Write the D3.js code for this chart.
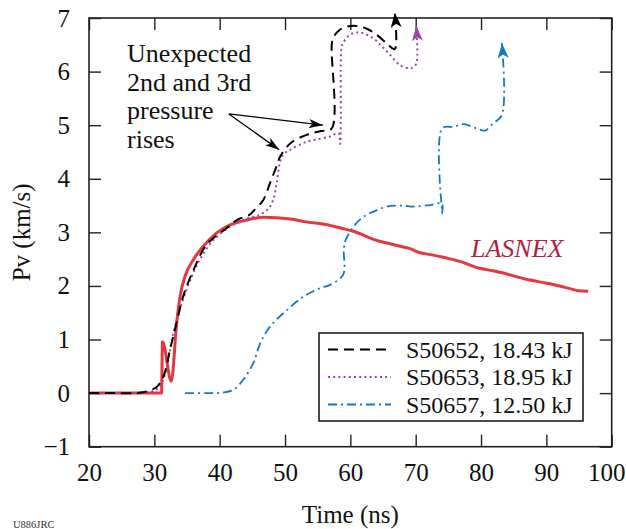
<!DOCTYPE html>
<html>
<head>
<meta charset="utf-8">
<script src="https://cdn.jsdelivr.net/npm/d3@7"></script>
<style>
  body { margin: 0; background: #fff; }
  text { font-family: "Liberation Serif", "Times New Roman", serif; }
</style>
</head>
<body>
<div id="main"></div>
<script>
// ---- data ----
let xTicks = [20, 30, 40, 50, 60, 70, 80, 90, 100];
let yTicks = [-1, 0, 1, 2, 3, 4, 5, 6, 7];

// S50652, 18.43 kJ (black dashed)
let t52 = [20, 24, 27, 28.5, 29.5, 30.4, 31.4, 32.4, 33.4, 34.4, 36.0, 38.0, 41.1, 42.6, 44.6, 45.1, 46.7, 47.7, 48.7, 49.2, 50.8, 53.3, 55.5, 57.15, 57.15, 57.4, 58.4, 59.5, 61.0, 62.5, 64.0, 65.55, 66.8, 66.8];
let v52 = [0, 0, 0, 0.02, 0.06, 0.12, 0.31, 0.81, 1.31, 1.80, 2.30, 2.77, 3.08, 3.23, 3.33, 3.39, 3.61, 3.92, 4.23, 4.40, 4.66, 4.82, 4.89, 4.94, 6.50, 6.64, 6.78, 6.84, 6.85, 6.80, 6.69, 6.53, 6.42, 7.1];

// S50653, 18.95 kJ (purple dotted)
let t53 = [20, 24, 28, 29.5, 30.5, 31.5, 32.9, 34.0, 35.5, 37.0, 39.0, 41.5, 44.0, 46.2, 47.5, 48.2, 48.7, 49.2, 49.7, 50.8, 53.3, 55.5, 56.9, 58.2, 58.45, 58.6, 58.75, 59.95, 61.5, 63.5, 65.0, 66.1, 67.6, 69.1, 69.6, 70.1, 70.1];
let v53 = [0, 0, 0, 0.03, 0.08, 0.30, 1.12, 1.60, 2.11, 2.50, 2.85, 3.10, 3.25, 3.33, 3.45, 3.61, 3.90, 4.29, 4.45, 4.54, 4.69, 4.75, 4.79, 4.85, 4.65, 6.40, 6.50, 6.69, 6.73, 6.62, 6.45, 6.31, 6.12, 6.06, 6.08, 6.15, 6.85];

// S50657, 12.50 kJ (blue dash-dot)
let t57 = [34.7, 38, 40.5, 42.1, 43.6, 45.15, 46.2, 47.7, 50.3, 52.8, 55.4, 56.9, 58.9, 59.0, 59.3, 60.5, 62.0, 63.8, 65.6, 68.1, 69.6, 72.2, 74.0, 74.05, 74.05, 75.8, 77.3, 79.3, 80.6, 81.9, 83.2, 83.2];
let v57 = [0, 0, 0.01, 0.06, 0.25, 0.56, 0.93, 1.24, 1.55, 1.80, 1.96, 2.02, 2.21, 2.70, 2.86, 3.11, 3.29, 3.40, 3.48, 3.50, 3.48, 3.51, 3.54, 3.36, 4.94, 4.97, 5.02, 4.94, 4.90, 5.04, 5.19, 6.53];

// LASNEX simulation (red)
let tLas = [20, 25, 30.9, 31.1, 31.25, 32.6, 33.42, 33.93, 34.7, 35.97, 37.5, 39.55, 41.6, 44.1, 46.7, 50.8, 53, 56.9, 58.5, 60.5, 62.5, 64.0, 65.6, 67.6, 69.0, 70.7, 72.5, 74.75, 77, 79.8, 81.5, 83.4, 85.5, 87.5, 90.1, 92, 93.6, 95, 96.4];
let vLas = [0, 0, 0, 0, 0.96, 0.22, 1.31, 1.80, 2.18, 2.49, 2.74, 2.99, 3.14, 3.23, 3.28, 3.25, 3.20, 3.13, 3.08, 3.02, 2.92, 2.85, 2.80, 2.74, 2.70, 2.62, 2.58, 2.52, 2.45, 2.33, 2.29, 2.24, 2.17, 2.11, 2.05, 2.00, 1.95, 1.91, 1.90];

let legendNames = ["S50652, 18.43 kJ", "S50653, 18.95 kJ", "S50657, 12.50 kJ"];
let noteLines = ["Unexpected", "2nd and 3rd", "pressure", "rises"];
// annotation arrows: [tStart, vStart, tEnd, vEnd]
let noteArrows = [[41.4, 5.21, 55.8, 5.0], [41.4, 5.21, 49.1, 4.54]];

// ---- chart ----
let w = 626, h = 529;
let padL = 89, padR = 611.7, padT = 18, padB = 446.7;
let serif = "Liberation Serif, Times New Roman, serif";

let svg = d3.select("#main").append("svg")
  .attr("width", w)
  .attr("height", h);

let xScale = d3.scaleLinear().domain([20, 100]).range([padL, padR]);
let yScale = d3.scaleLinear().domain([-1, 7]).range([padB, padT]);

let defs = svg.append("defs");
function arrowMarker(id, color, len, half) {
  defs.append("marker")
    .attr("id", id)
    .attr("markerUnits", "userSpaceOnUse")
    .attr("viewBox", `0 ${-half} ${len} ${2 * half}`)
    .attr("refX", len).attr("refY", 0)
    .attr("markerWidth", len).attr("markerHeight", 2 * half)
    .attr("orient", "auto")
    .append("path")
    .attr("d", `M0,${-half}L${len},0L0,${half}L${len * 0.25},0Z`)
    .attr("fill", color);
}
arrowMarker("arrBlack", "#000", 15, 5.5);
arrowMarker("arrPurple", "#9b45a8", 15, 5.5);
arrowMarker("arrBlue", "#1279c2", 15, 5.5);
arrowMarker("arrNote", "#000", 14, 4.5);

// axes, ticks inside on all four sides
svg.append("g")
  .attr("transform", "translate(0," + padB + ")")
  .call(d3.axisBottom(xScale).tickValues(xTicks).tickSizeInner(-12).tickSizeOuter(0).tickPadding(16.5))
  .call(g => g.select(".domain").remove())
  .call(g => g.selectAll("text").attr("font-size", 25).attr("font-family", serif).attr("fill", "#111"))
  .call(g => g.selectAll("text").filter(d => d === 100).attr("x", -5.5));

svg.append("g")
  .attr("transform", "translate(" + padL + ",0)")
  .call(d3.axisLeft(yScale).tickValues(yTicks).tickSizeInner(-12).tickSizeOuter(0).tickPadding(19))
  .call(g => g.select(".domain").remove())
  .call(g => g.selectAll("text").attr("font-size", 25).attr("font-family", serif).attr("fill", "#111"));

svg.append("g")
  .attr("transform", "translate(0," + padT + ")")
  .call(d3.axisTop(xScale).tickValues(xTicks).tickSizeInner(-12).tickSizeOuter(0).tickFormat(""))
  .call(g => g.select(".domain").remove());

svg.append("g")
  .attr("transform", "translate(" + padR + ",0)")
  .call(d3.axisRight(yScale).tickValues(yTicks).tickSizeInner(-12).tickSizeOuter(0).tickFormat(""))
  .call(g => g.select(".domain").remove());

svg.selectAll(".tick line").attr("stroke", "#222").attr("stroke-width", 1.4);

svg.append("rect")
  .attr("x", padL).attr("y", padT)
  .attr("width", padR - padL).attr("height", padB - padT)
  .attr("fill", "none").attr("stroke", "#222").attr("stroke-width", 1.6);

// axis titles
svg.append("text")
  .attr("x", (padL + padR) / 2).attr("y", 523)
  .attr("text-anchor", "middle")
  .attr("font-size", 25).attr("fill", "#111")
  .text("Time (ns)");

svg.append("text")
  .attr("transform", "translate(30," + ((padT + padB) / 2) + ") rotate(-90)")
  .attr("text-anchor", "middle")
  .attr("font-size", 25).attr("fill", "#111")
  .text("Pv (km/s)");

// figure id in the bottom-left corner
svg.append("text")
  .attr("x", 13).attr("y", 527.5)
  .attr("font-size", 10.5).attr("fill", "#333")
  .text("U886JRC");

// series
let smooth = d3.line()
  .x(d => xScale(d[0]))
  .y(d => yScale(d[1]))
  .curve(d3.curveCatmullRom.alpha(0.5));

let mono = d3.line()
  .x(d => xScale(d[0]))
  .y(d => yScale(d[1]))
  .curve(d3.curveMonotoneX);

let series = [
  { t: tLas, v: vLas, color: "#e5373f", width: 3, dash: null, marker: null, gen: mono },
  { t: t57, v: v57, color: "#1279c2", width: 1.8, dash: "9,4,2,4", marker: "arrBlue", gen: smooth },
  { t: t53, v: v53, color: "#9b45a8", width: 2, dash: "2,3.2", marker: "arrPurple", gen: smooth },
  { t: t52, v: v52, color: "#000", width: 2, dash: "10,6", marker: "arrBlack", gen: smooth }
];

svg.selectAll(".series")
  .data(series)
  .enter()
  .append("path")
  .attr("class", "series")
  .attr("d", s => s.gen(s.t.map((t, i) => [t, s.v[i]])))
  .attr("fill", "none")
  .attr("stroke", s => s.color)
  .attr("stroke-width", s => s.width)
  .attr("stroke-dasharray", s => s.dash)
  .attr("marker-end", s => s.marker ? "url(#" + s.marker + ")" : null);

// LASNEX label
svg.append("text")
  .attr("x", 471).attr("y", 257)
  .attr("font-size", 26).attr("font-style", "italic")
  .attr("fill", "#b0233a")
  .text("LASNEX");

// annotation
svg.append("text")
  .attr("font-size", 26).attr("fill", "#111")
  .selectAll("tspan")
  .data(noteLines)
  .enter().append("tspan")
  .attr("x", 127)
  .attr("y", (d, i) => 62 + i * 28.7)
  .text(d => d);

svg.selectAll(".note-arrow")
  .data(noteArrows)
  .enter().append("line")
  .attr("class", "note-arrow")
  .attr("x1", d => xScale(d[0])).attr("y1", d => yScale(d[1]))
  .attr("x2", d => xScale(d[2])).attr("y2", d => yScale(d[3]))
  .attr("stroke", "#000").attr("stroke-width", 1.3)
  .attr("marker-end", "url(#arrNote)");

// legend
let lg = svg.append("g").attr("transform", "translate(319,333)");
lg.append("rect")
  .attr("width", 264).attr("height", 88)
  .attr("fill", "#fff").attr("stroke", "#111").attr("stroke-width", 1.5);

let legendSeries = [series[3], series[2], series[1]];
let rows = lg.selectAll(".legend")
  .data(legendNames)
  .enter().append("g")
  .attr("class", "legend")
  .attr("transform", (d, i) => "translate(0," + (16.5 + i * 27.5) + ")");

rows.append("line")
  .attr("x1", 9).attr("x2", 72)
  .attr("stroke", (d, i) => legendSeries[i].color)
  .attr("stroke-width", (d, i) => legendSeries[i].width)
  .attr("stroke-dasharray", (d, i) => legendSeries[i].dash);

rows.append("text")
  .attr("x", 87).attr("y", 0).attr("dy", "0.35em")
  .attr("font-size", 24).attr("fill", "#111")
  .text(d => d);
</script>
</body>
</html>
